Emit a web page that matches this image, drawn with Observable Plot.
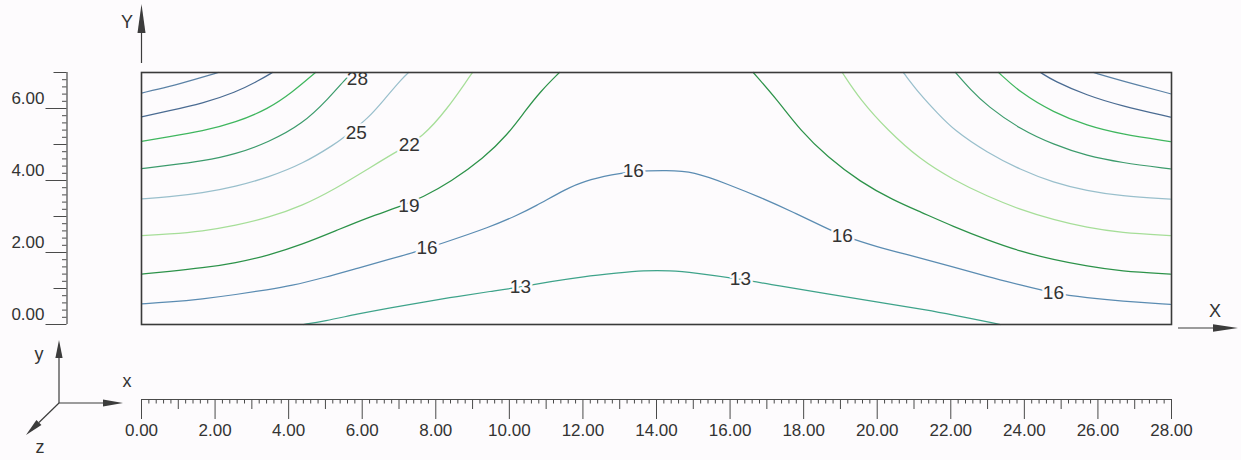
<!DOCTYPE html>
<html><head><meta charset="utf-8">
<script src="https://cdn.jsdelivr.net/npm/d3@7"></script>
<script src="https://cdn.jsdelivr.net/npm/@observablehq/plot@0.6"></script>
<style>
html,body{margin:0;padding:0;background:#fdfbfd;}
#chart{width:1241px;height:460px;overflow:hidden;}
</style></head><body><div id="chart"></div>
<script>
const levelValues = [13, 16, 19, 22, 25, 28, 31, 34, 37];
const c13 = [[4.40,0],[4.96,0.09],[5.86,0.29],[6.77,0.47],[7.67,0.62],[8.58,0.78],[9.49,0.92],[10.30,1.04],[11.12,1.19],[12.01,1.33],[12.94,1.43],[13.64,1.50],[14.38,1.50],[15.00,1.44],[16.28,1.26],[17.29,1.08],[18.65,0.85],[20.01,0.62],[21.45,0.39],[22.07,0.26],[23.35,0]];
const c16 = [[0,0.57],[0.73,0.62],[1.66,0.71],[2.56,0.83],[3.45,0.97],[4.05,1.07],[4.96,1.30],[5.86,1.56],[6.77,1.82],[7.40,2.00],[8.13,2.24],[9.49,2.71],[10.22,3.04],[10.66,3.26],[11.57,3.78],[12.01,3.98],[12.83,4.17],[13.37,4.26],[14.30,4.28],[15.00,4.25],[15.93,3.90],[16.83,3.53],[17.72,3.12],[18.65,2.66],[19.05,2.47],[20.01,2.15],[20.90,1.92],[22.07,1.60],[22.99,1.33],[23.89,1.10],[24.79,0.87],[25.71,0.74],[26.61,0.65],[27.97,0.56]];
const c19L = [[0,1.40],[0.73,1.47],[1.66,1.57],[2.56,1.71],[3.45,1.92],[4.38,2.23],[5.27,2.60],[6.17,2.98],[6.99,3.26],[7.66,3.54],[8.40,3.96],[9.30,4.62],[9.95,5.27],[10.42,5.92],[10.85,6.48],[11.36,7.0]];
const c19R = [[16.63,7.0],[17.29,6.23],[17.91,5.39],[18.65,4.65],[19.54,3.96],[20.44,3.45],[21.17,3.13],[22.07,2.72],[22.99,2.35],[23.89,2.03],[24.79,1.80],[25.71,1.62],[26.61,1.48],[27.97,1.40]];
const c22L = [[0,2.47],[0.73,2.51],[1.66,2.59],[2.56,2.75],[3.45,2.97],[4.38,3.30],[5.27,3.77],[6.17,4.33],[6.99,4.84],[7.64,5.20],[8.32,6.00],[8.86,6.80],[9.0,7.0]];
const c22R = [[19.05,7.0],[19.54,6.24],[20.28,5.40],[21.17,4.58],[22.07,4.02],[22.99,3.56],[23.89,3.19],[24.79,2.91],[25.71,2.69],[26.61,2.55],[27.97,2.47]];
const c25L = [[0,3.49],[0.73,3.54],[1.66,3.65],[2.56,3.83],[3.45,4.09],[4.38,4.46],[5.27,5.02],[5.49,5.19],[6.17,5.73],[6.63,6.29],[7.09,6.84],[7.26,7.0]];
const c25R = [[20.71,7.0],[21.17,6.38],[21.64,5.87],[22.07,5.41],[22.99,4.77],[23.89,4.30],[24.79,3.94],[25.71,3.71],[26.61,3.57],[27.97,3.48]];
const c28L = [[0,4.33],[0.73,4.42],[1.66,4.54],[2.56,4.73],[3.45,5.06],[4.38,5.57],[5.08,6.27],[5.63,6.92],[5.74,7.0]];
const c28R = [[22.13,7.0],[22.53,6.53],[22.99,6.07],[23.89,5.42],[24.79,5.00],[25.71,4.68],[26.61,4.50],[27.97,4.32]];
const c31L = [[0,5.09],[0.73,5.21],[1.66,5.37],[2.56,5.61],[3.45,5.99],[4.10,6.45],[4.73,7.0]];
const c31R = [[23.30,7.0],[23.89,6.44],[24.79,5.89],[25.71,5.52],[26.61,5.29],[27.97,5.08]];
const c34L = [[0,5.77],[0.73,5.93],[1.66,6.14],[2.56,6.45],[3.18,6.77],[3.56,7.0]];
const c34R = [[24.44,7.0],[24.79,6.77],[25.71,6.36],[26.61,6.08],[27.97,5.76]];
const c37L = [[0,6.43],[0.73,6.60],[1.47,6.81],[2.09,7.0]];
const c37R = [[25.88,7.0],[26.61,6.78],[27.97,6.41]];

// contour labels: [x, y, level]
const contourLabels = [[5.87,6.83,28],[5.84,5.31,25],[7.28,4.98,22],[7.27,3.30,19],[7.76,2.12,16],[13.37,4.26,16],[19.05,2.47,16],[24.79,0.87,16],[10.30,1.04,13],[16.28,1.26,13]];

// ruler ticks and labels
const xMajorTicks = [0,2,4,6,8,10,12,14,16,18,20,22,24,26,28];
const xTickLabels = ["0.00","2.00","4.00","6.00","8.00","10.00","12.00","14.00","16.00","18.00","20.00","22.00","24.00","26.00","28.00"];
const yMajorTicks = [0,2,4,6];
const yTickLabels = ["0.00","2.00","4.00","6.00"];

// ---- styles ----
const levelColors = ["#3ea38a","#5b8cb2","#2c9249","#a6de98","#99bfcc","#3c9b6c","#3fb65e","#4a6b92","#5b82a6"];
const FONT = "Liberation Sans, Arial, Helvetica, sans-serif";
const INK = "#333";

const W = 1241, H = 460;
const M = {left:141, right:70, top:72, bottom:136};
const pxPerX = (W - M.left - M.right) / 28;
const pxPerY = (H - M.top - M.bottom) / 7;
const xAt = px => (px - M.left) / pxPerX;
const yAt = py => 7 - (py - M.top) / pxPerY;

const segments = [
  [13,c13],[16,c16],[19,c19L],[19,c19R],[22,c22L],[22,c22R],[25,c25L],[25,c25R],
  [28,c28L],[28,c28R],[31,c31L],[31,c31R],[34,c34L],[34,c34R],[37,c37L],[37,c37R]
];
const rows = segments.flatMap(([level, pts], i) => pts.map(([x, y]) => ({x, y, level, seg: i})));

// ruler tick rows
const xRulerY = yAt(399);
const yRulerX = xAt(66.5);
const xTicks = d3.range(0, 141).map(i => i / 5);
const yTicks = d3.range(0, 36).map(i => i / 5);
const tickLen = v => {
  const r = Math.round(v * 5);
  if (r % 10 === 0) return 20;
  if (r % 5 === 0) return 10;
  return 4.5;
};

const plot = Plot.plot({
  width: W, height: H,
  marginLeft: M.left, marginRight: M.right, marginTop: M.top, marginBottom: M.bottom,
  x: {domain: [0, 28], axis: null},
  y: {domain: [0, 7], axis: null},
  color: {type: "ordinal", domain: levelValues, range: levelColors},
  style: {background: "#fdfbfd", fontFamily: FONT, overflow: "visible"},
  marks: [
    Plot.line(rows, {x: "x", y: "y", z: "seg", stroke: "level", strokeWidth: 1.25, curve: "basis"}),
    Plot.text(contourLabels, {x: d => d[0], y: d => d[1], text: d => String(d[2]),
      fontSize: 19, fill: INK, stroke: "#fdfbfd", strokeWidth: 5, fontFamily: FONT}),
    Plot.frame({stroke: "#3a3a3a", strokeWidth: 1.6}),
    // bottom ruler
    Plot.ruleY([xRulerY], {x1: 0, x2: 28, stroke: "#4a4a4a", strokeWidth: 1.2}),
    Plot.ruleX(xTicks, {x: d => d, y1: xRulerY, y2: d => xRulerY - tickLen(d) / pxPerY, stroke: "#4a4a4a", strokeWidth: 1}),
    Plot.text(xMajorTicks, {x: d => d, y: xRulerY, dy: 31, text: (d, i) => xTickLabels[i],
      fontSize: 17, fill: INK, fontFamily: FONT}),
    // left ruler
    Plot.ruleX([yRulerX], {y1: 0, y2: 7, stroke: "#4a4a4a", strokeWidth: 1.2}),
    Plot.ruleY(yTicks, {y: d => d, x1: yRulerX, x2: d => yRulerX - (tickLen(d) === 20 ? 21 : tickLen(d) === 10 ? 13 : 4.5) / pxPerX, stroke: "#4a4a4a", strokeWidth: 1}),
    Plot.text(yMajorTicks, {x: xAt(44), y: d => d, dy: -10, text: (d, i) => yTickLabels[i],
      textAnchor: "end", fontSize: 17, fill: INK, fontFamily: FONT})
  ]
});
document.getElementById("chart").appendChild(plot);

// ---- axis arrows and orientation triad ----
const sx = plot.scale("x").apply, sy = plot.scale("y").apply;
const svgSel = d3.select(plot);
const deco = svgSel.append("g").attr("fill", "#3c3c3c").attr("stroke", "#3c3c3c");
function arrow(x0, y0, x1, y1, head, half) {
  const dx = x1 - x0, dy = y1 - y0, L = Math.hypot(dx, dy);
  const ux = dx / L, uy = dy / L, bx = x1 - ux * head, by = y1 - uy * head;
  deco.append("line").attr("x1", x0).attr("y1", y0).attr("x2", bx).attr("y2", by).attr("stroke-width", 1.2);
  deco.append("path").attr("stroke", "none")
    .attr("d", `M${x1},${y1}L${bx - uy * half},${by + ux * half}L${bx + uy * half},${by - ux * half}Z`);
}
function addLabel(t, x, y) {
  deco.append("text").attr("x", x).attr("y", y).attr("stroke", "none").attr("fill", INK)
    .attr("font-family", FONT).attr("font-size", 18).attr("text-anchor", "middle")
    .attr("dominant-baseline", "central").text(t);
}
const fLeft = sx(0), fRight = sx(28), fTop = sy(7), fBottom = sy(0);
arrow(fLeft + 0.5, fTop - 9, fLeft + 0.5, 4, 29, 4);
addLabel("Y", fLeft - 14, 22);
arrow(fRight + 7, fBottom + 4, fRight + 67, fBottom + 4, 25, 3.8);
addLabel("X", fRight + 44, fBottom - 13);
const ox = 59, oy = 403;
arrow(ox, oy, ox, 340, 18, 3.6);
arrow(ox, oy, ox + 64, oy, 20, 3.6);
arrow(ox, oy, ox - 33, oy + 32, 18, 3.6);
addLabel("y", 39, 354);
addLabel("x", 127, 381);
addLabel("z", 40, 447);
</script></body></html>
